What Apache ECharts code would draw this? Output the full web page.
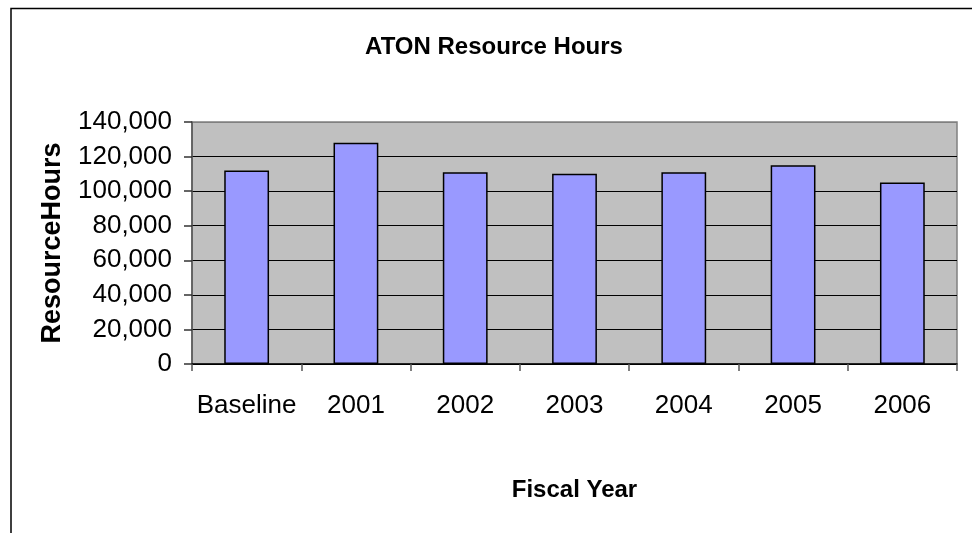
<!DOCTYPE html>
<html>
<head>
<meta charset="utf-8">
<script src="https://cdn.jsdelivr.net/npm/echarts@6/dist/echarts.min.js"></script>
<style>
html,body{margin:0;padding:0;background:#fff;}
#chart{width:972px;height:533px;}
</style>
</head>
<body>
<div id="chart"></div>
<script>
var titleText = 'ATON Resource Hours';
var xAxisTitle = 'Fiscal Year';
var yAxisTitle = 'ResourceHours';
var categories = ['Baseline', '2001', '2002', '2003', '2004', '2005', '2006'];
var resourceHours = [112000, 128000, 111000, 110000, 111000, 115000, 105000];
var yMin = 0;
var yMax = 140000;
var yInterval = 20000;

var FONT = '"Liberation Sans", Arial, Helvetica, sans-serif';
var chart = echarts.init(document.getElementById('chart'), null, {renderer: 'canvas'});
var lineColors = [];
for (var v = yMin; v <= yMax; v += yInterval) {
  lineColors.push(v === yMax ? '#808080' : '#000000');
}
chart.setOption({
  backgroundColor: '#ffffff',
  animation: false,
  title: {
    text: titleText,
    left: 489,
    textAlign: 'center',
    top: 30,
    textStyle: {fontFamily: FONT, fontSize: 24, fontWeight: 'bold', color: '#000'}
  },
  graphic: [{
    type: 'rect',
    silent: true,
    shape: {x: 11, y: 8.5, width: 2000, height: 2000},
    style: {fill: 'none', stroke: '#000', lineWidth: 1.5}
  }],
  grid: {
    left: 192, right: 15, top: 122, bottom: 169,
    show: true,
    backgroundColor: '#c0c0c0',
    borderColor: '#808080',
    borderWidth: 1.5
  },
  xAxis: {
    type: 'category',
    data: categories,
    name: xAxisTitle,
    nameLocation: 'middle',
    nameGap: 114,
    nameTextStyle: {fontFamily: FONT, fontSize: 24, fontWeight: 'bold', color: '#000'},
    axisLine: {lineStyle: {color: '#000', width: 1.5}},
    axisTick: {show: true, length: 7, alignWithLabel: false, lineStyle: {color: '#555', width: 1.5}},
    axisLabel: {fontFamily: FONT, fontSize: 26, color: '#000', margin: 29, interval: 0},
    splitLine: {show: false}
  },
  yAxis: {
    type: 'value',
    min: yMin,
    max: yMax,
    interval: yInterval,
    name: yAxisTitle,
    nameLocation: 'middle',
    nameGap: 126,
    nameRotate: 90,
    nameTextStyle: {fontFamily: FONT, fontSize: 27, fontWeight: 'bold', color: '#000'},
    axisLine: {show: true, lineStyle: {color: '#555', width: 1.5}},
    axisTick: {show: true, length: 8, lineStyle: {color: '#333', width: 1.5}},
    axisLabel: {
      fontFamily: FONT, fontSize: 26, color: '#000', margin: 20,
      formatter: function (val) { return Number(val).toLocaleString('en-US'); }
    },
    splitLine: {show: true, lineStyle: {color: lineColors, width: 1.2}}
  },
  series: [{
    type: 'bar',
    data: resourceHours,
    barWidth: '41%',
    itemStyle: {color: '#9999ff', borderColor: '#000', borderWidth: 1.5}
  }]
});
</script>
</body>
</html>
